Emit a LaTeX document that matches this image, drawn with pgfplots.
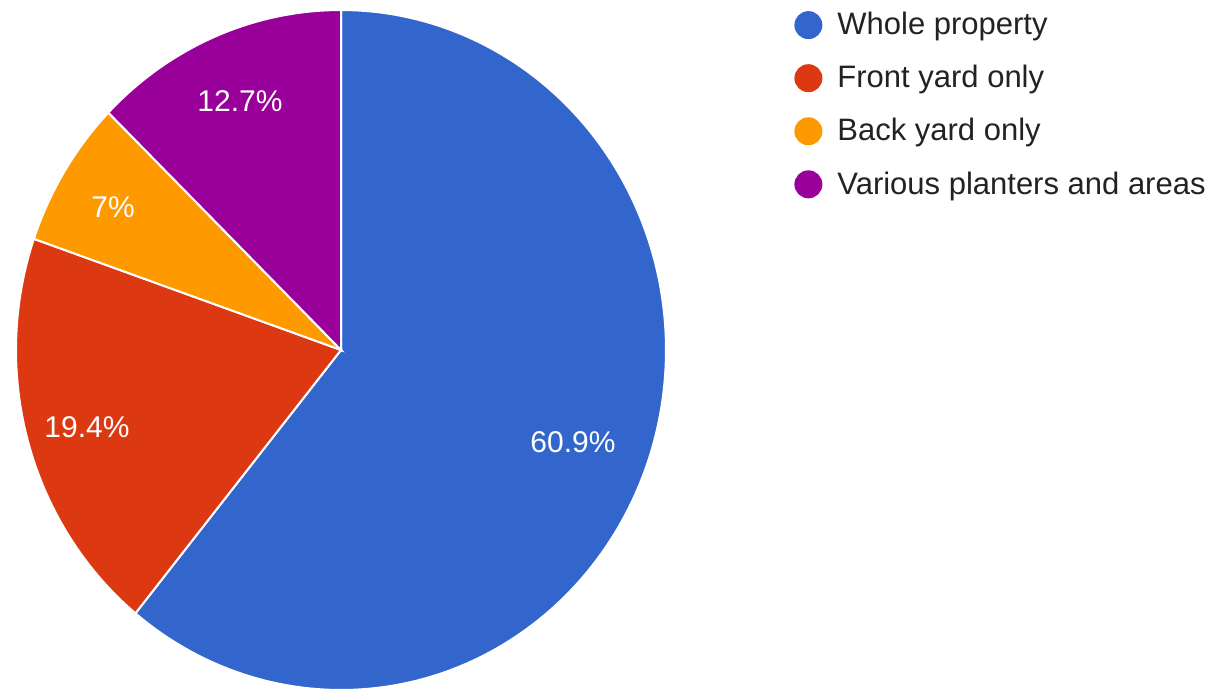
\documentclass[border=0pt]{standalone}
\usepackage{fontspec}
\setmainfont{Liberation Sans}
\usepackage{pgfplots}
\pgfplotsset{compat=1.18}
\definecolor{gblue}{HTML}{3366CC}
\definecolor{gred}{HTML}{DC3912}
\definecolor{gorange}{HTML}{FF9900}
\definecolor{gpurple}{HTML}{990099}
\definecolor{legtext}{HTML}{222222}
% shares (percent)
\def\vA{60.9}
\def\vB{19.4}
\def\vC{7}
\def\vD{12.7}
\begin{document}
\begin{tikzpicture}
\begin{axis}[
  width=607.5pt, height=348.5pt, scale only axis,
  xmin=0, xmax=1215, ymin=0, ymax=697,
  hide axis, clip=false,
  legend style={at={(axis cs:794,689)}, anchor=north west, draw=none, fill=none,
    inner sep=0pt, font=\fontsize{15.5}{18}\selectfont, text=legtext,
    row sep=9.8pt, column sep=5.5pt, cells={anchor=west}},
  legend image code/.code={\fill[#1,draw=none] (7pt,0pt) circle (7pt);},
]
\addplot[draw=none, forget plot] coordinates {(0,0) (1215,697)};
\addplot[fill=gblue, draw=white, line width=1pt, samples=150, variable=\t,
  domain={90-3.6*\vA}:90]
  ({341+325*cos(t)}, {347+340*sin(t)}) -- (axis cs:341,347) -- cycle;
\addlegendentry{Whole property}
\addplot[fill=gred, draw=white, line width=1pt, samples=60, variable=\t,
  domain={90-3.6*(\vA+\vB)}:{90-3.6*\vA}]
  ({341+325*cos(t)}, {347+340*sin(t)}) -- (axis cs:341,347) -- cycle;
\addlegendentry{Front yard only}
\addplot[fill=gorange, draw=white, line width=1pt, samples=30, variable=\t,
  domain={90-3.6*(\vA+\vB+\vC)}:{90-3.6*(\vA+\vB)}]
  ({341+325*cos(t)}, {347+340*sin(t)}) -- (axis cs:341,347) -- cycle;
\addlegendentry{Back yard only}
\addplot[fill=gpurple, draw=white, line width=1pt, samples=40, variable=\t,
  domain={90-3.6*(\vA+\vB+\vC+\vD)}:{90-3.6*(\vA+\vB+\vC)}]
  ({341+325*cos(t)}, {347+340*sin(t)}) -- (axis cs:341,347) -- cycle;
\addlegendentry{Various planters and areas}
\node[text=white, font=\fontsize{15}{18}\selectfont] at (axis cs:573,255) {60.9\%};
\node[text=white, font=\fontsize{15}{18}\selectfont] at (axis cs:87,270) {19.4\%};
\node[text=white, font=\fontsize{15}{18}\selectfont] at (axis cs:113,490) {7\%};
\node[text=white, font=\fontsize{15}{18}\selectfont] at (axis cs:240,596) {12.7\%};
\end{axis}
\end{tikzpicture}
\end{document}
